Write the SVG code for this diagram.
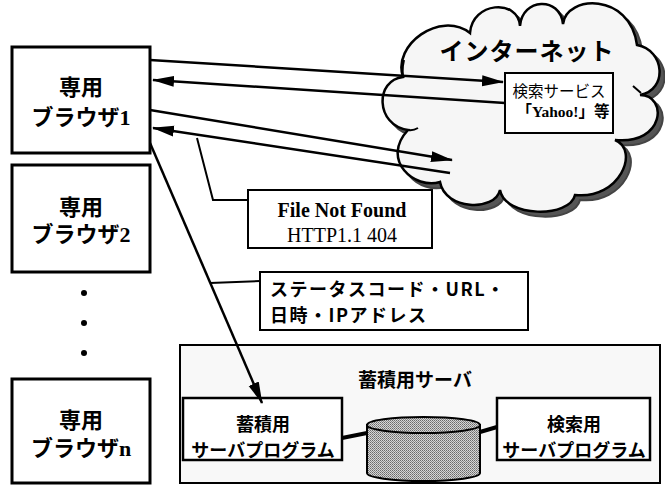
<svg xmlns="http://www.w3.org/2000/svg" width="665" height="485" viewBox="0 0 665 485">
<style>
.box{fill:#fff;stroke:#000;stroke-width:3}
.thin{fill:#fff;stroke:#000;stroke-width:2}
.jp{font-family:"Noto Sans CJK JP","Noto Sans",sans-serif}
.mix{font-family:"Liberation Serif","Noto Sans CJK JP",serif}
.ser{font-family:"Liberation Serif",serif}
.conn{stroke:#000;stroke-width:2.5;fill:none}
.call{stroke:#000;stroke-width:2;fill:none}
.lbl{font-size:22px;font-weight:bold;text-anchor:middle}
</style>
<defs>
<marker id="ah" markerUnits="userSpaceOnUse" markerWidth="22" markerHeight="12" refX="21" refY="5.5" orient="auto">
<path d="M0,0 L22,5.5 L0,11 z" fill="#000"/>
</marker>
<pattern id="dots" width="2" height="2" patternUnits="userSpaceOnUse">
<rect width="2" height="2" fill="#d6d6d6"/>
<rect width="1" height="1" fill="#6a6a6a"/>
<rect x="1" y="1" width="1" height="1" fill="#8a8a8a"/>
</pattern>
<path id="cloud" d="M403,77 C392,45 440,10 470,33 C472,2 518,-2 520,26 C522,-2 560,-4 563,24 C566,-5 630,-8 637,45 C665,50 668,90 640,95 C668,95 665,145 615,140 C640,150 620,200 575,195 C570,218 505,218 500,190 C495,212 445,210 440,182 C415,190 380,160 408,130 C375,125 375,80 403,77 Z"/>
</defs>

<g id="internet">
<use href="#cloud" transform="translate(5,5)" fill="#555" stroke="#444" stroke-width="2"/>
<use href="#cloud" fill="#f6f6f6" stroke="#000" stroke-width="2.5"/>
<path d="M403,77 Q402,68 404,60 M408,130 Q413,131 418,128 M633,86 L641,93" class="call"/>
<text x="527" y="60" class="jp" font-size="24" font-weight="bold" text-anchor="middle" letter-spacing="1">インターネット</text>
</g>

<g id="search">
<rect x="505" y="73" width="108" height="60" class="thin"/>
<text x="559" y="97" class="jp" font-size="15.5" text-anchor="middle">検索サービス</text>
<text x="563" y="117" class="mix" font-size="15.5" font-weight="bold" text-anchor="middle">「Yahoo!」等</text>
</g>

<g id="browser1">
<rect x="12" y="47" width="138" height="106" class="box"/>
<text x="81" y="95" class="mix lbl">専用</text>
<text x="81" y="125" class="mix lbl">ブラウザ1</text>
</g>
<g id="browser2">
<rect x="12" y="165" width="138" height="107" class="box"/>
<text x="81" y="215" class="mix lbl">専用</text>
<text x="81" y="242" class="mix lbl">ブラウザ2</text>
</g>
<g id="dots-between">
<circle cx="84" cy="293" r="3"/>
<circle cx="84" cy="323" r="3"/>
<circle cx="84" cy="353" r="3"/>
</g>
<g id="browsern">
<rect x="12" y="379" width="138" height="104" class="box"/>
<text x="81" y="428" class="mix lbl">専用</text>
<text x="81" y="456" class="mix lbl">ブラウザn</text>
</g>

<g id="notfound">
<rect x="248" y="190" width="184" height="58" class="thin"/>
<text x="342" y="217" class="ser" font-size="20" font-weight="bold" text-anchor="middle">File Not Found</text>
<text x="342" y="242" class="ser" font-size="20" text-anchor="middle">HTTP1.1 404</text>
</g>

<g id="status">
<rect x="260" y="272" width="268" height="58" class="thin"/>
<text x="270" y="296" class="jp" font-size="18" font-weight="bold" letter-spacing="1.5">ステータスコード・URL・</text>
<text x="270" y="322" class="jp" font-size="18" font-weight="bold" letter-spacing="1.5">日時・IPアドレス</text>
</g>

<g id="storage-server">
<rect x="180" y="345" width="480" height="138" fill="#f8f8f8" stroke="#000" stroke-width="2"/>
<text x="415" y="387" class="jp" font-size="19" font-weight="bold" text-anchor="middle">蓄積用サーバ</text>
</g>
<g id="storage-program">
<rect x="183" y="398" width="159" height="62" fill="#fff" stroke="#000" stroke-width="2.5"/>
<text x="263" y="431" class="jp" font-size="18" font-weight="bold" text-anchor="middle">蓄積用</text>
<text x="263" y="457" class="jp" font-size="18" font-weight="bold" text-anchor="middle">サーバプログラム</text>
</g>
<g id="database">
<path d="M367,425 L367,473 A56.5,8 0 0 0 480,473 L480,425 Z" fill="url(#dots)" stroke="#000" stroke-width="2"/>
<ellipse cx="423.5" cy="425" rx="56.5" ry="8" fill="url(#dots)" stroke="#000" stroke-width="2"/>
</g>
<g id="search-program">
<rect x="497" y="398" width="153" height="62" fill="#fff" stroke="#000" stroke-width="2.5"/>
<text x="574" y="431" class="jp" font-size="18" font-weight="bold" text-anchor="middle">検索用</text>
<text x="574" y="457" class="jp" font-size="18" font-weight="bold" text-anchor="middle">サーバプログラム</text>
</g>

<g id="connectors">
<path d="M150,60 L503,82" class="conn" marker-end="url(#ah)"/>
<path d="M505,103 L153,80" class="conn" marker-end="url(#ah)"/>
<path d="M150,110 L452,160" class="conn" marker-end="url(#ah)"/>
<path d="M450,173 L153,128" class="conn" marker-end="url(#ah)"/>
<path d="M150,143 L262,403" class="conn" stroke-width="2" marker-end="url(#ah)"/>
<path d="M197,138 L213,200 L248,200" class="call"/>
<path d="M210,283 L260,281" class="call"/>
<path d="M342,438 L367,433" stroke="#000" stroke-width="4"/>
<path d="M480,432 L497,427" stroke="#000" stroke-width="4"/>
</g>
</svg>
